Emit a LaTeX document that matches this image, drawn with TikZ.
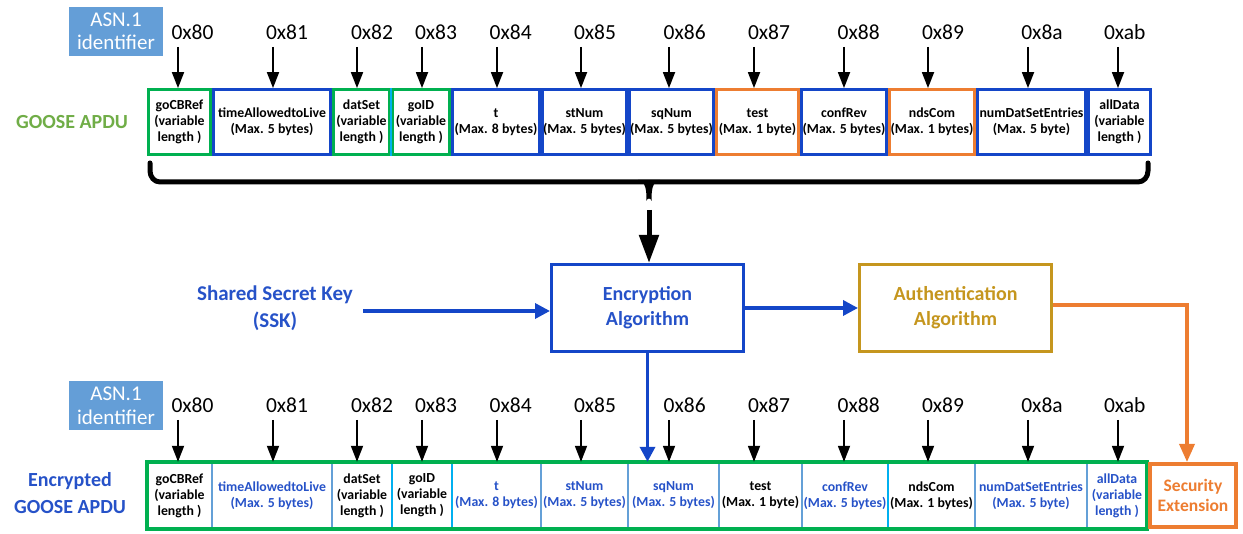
\documentclass[tikz,border=0pt]{standalone}
\usepackage{fontspec}
\setmainfont{Carlito}
\usetikzlibrary{arrows.meta}
\definecolor{dblue}{RGB}{20,70,200}
\definecolor{tblue}{RGB}{38,82,200}
\definecolor{bgreen}{RGB}{0,176,80}
\definecolor{lgreen}{RGB}{112,173,71}
\definecolor{borange}{RGB}{237,125,49}
\definecolor{gold}{RGB}{197,150,30}
\definecolor{asnblue}{RGB}{100,158,215}
\definecolor{sepblue}{RGB}{100,160,215}
\definecolor{cyanb}{RGB}{0,176,240}
\newcommand\cellfnt{\fontsize{13.8}{16}\selectfont\bfseries}
\begin{document}
\begin{tikzpicture}[x=1pt,y=-1pt,
  cell/.style={draw, line width=2.8pt, minimum height=65pt, inner sep=0pt, align=center, font=\cellfnt},
  ecell/.style={draw=none, minimum height=67pt, inner sep=0pt, align=center, font=\cellfnt},
  hexlab/.style={font=\fontsize{21.5}{24}\selectfont, inner sep=0pt},
  tag/.style={line width=1.8pt, -{Triangle[length=16pt,width=12pt]}},
  asnbox/.style={fill=asnblue, text=white, minimum width=94pt, minimum height=49pt, inner sep=0pt, align=center, font=\fontsize{21}{23.5}\selectfont},
  sepline/.style={draw=sepblue, line width=2.5pt},
  sepcyan/.style={draw=cyanb, line width=2.5pt},
  bigbox/.style={line width=3pt, minimum width=192pt, minimum height=87pt, inner sep=0pt, align=center, font=\fontsize{20}{25}\selectfont\bfseries},
  barrow/.style={draw=dblue, line width=3.5pt, -{Triangle[length=15pt,width=15pt]}},
  oarrow/.style={draw=borange, line width=3.5pt, line join=miter, -{Triangle[length=18pt,width=15pt]}},
  sidelab/.style={font=\fontsize{20}{27}\selectfont\bfseries, align=center, inner sep=0pt}
]
\useasboundingbox (0,0) rectangle (1243,534);

% ---------- top row ----------
\node[asnbox] (asn1) at (116,31.5) {ASN.1\\identifier};
\node[sidelab, text=lgreen] (goose) at (72,122) {GOOSE APDU};

\node[cell, draw=bgreen, minimum width=62pt] (tc1) at (179.5,122) {goCBRef\\(variable\\length )};
\node[cell, draw=dblue, minimum width=117pt] (tc2) at (272,122) {timeAllowedtoLive\\(Max. 5 bytes)};
\node[cell, draw=bgreen, minimum width=56pt] (tc3) at (361.5,122) {datSet\\(variable\\length )};
\node[cell, draw=bgreen, minimum width=57pt] (tc4) at (421,122) {goID\\(variable\\length )};
\node[cell, draw=dblue, minimum width=87pt] (tc5) at (496,122) {t\\(Max. 8 bytes)};
\node[cell, draw=dblue, minimum width=84pt] (tc6) at (584.5,122) {stNum\\(Max. 5 bytes)};
\node[cell, draw=dblue, minimum width=84pt] (tc7) at (671.5,122) {sqNum\\(Max. 5 bytes)};
\node[cell, draw=borange, minimum width=82pt] (tc8) at (757.5,122) {test\\(Max. 1 byte)};
\node[cell, draw=dblue, minimum width=85pt] (tc9) at (844,122) {confRev\\(Max. 5 bytes)};
\node[cell, draw=borange, minimum width=85pt] (tc10) at (932,122) {ndsCom\\(Max. 1 bytes)};
\node[cell, draw=dblue, minimum width=108pt] (tc11) at (1031.5,122) {numDatSetEntries\\(Max. 5 byte)};
\node[cell, draw=dblue, minimum width=62pt] (tc12) at (1119.5,122) {allData\\(variable\\length )};
\draw[sepcyan] (tc4.north west) -- (tc4.south west);

% ---------- bottom row ----------
\node[asnbox] (asn2) at (116,406) {ASN.1\\identifier};
\node[sidelab, text=tblue] (egoose) at (70,493.5) {Encrypted\\GOOSE APDU};

\node[ecell, minimum width=65pt] (bc1) at (179.5,495.5) {goCBRef\\(variable\\length )};
\node[ecell, minimum width=120pt, text=tblue] (bc2) at (272,495.5) {timeAllowedtoLive\\(Max. 5 bytes)};
\node[ecell, minimum width=60pt] (bc3) at (362,495.5) {datSet\\(variable\\length )};
\node[ecell, minimum width=60pt] (bc4) at (422,495.5) {goID\\(variable\\length )};
\node[ecell, minimum width=89pt, text=tblue] (bc5) at (496.5,495.5) {t\\(Max. 8 bytes)};
\node[ecell, minimum width=87pt, text=tblue] (bc6) at (584.5,495.5) {stNum\\(Max. 5 bytes)};
\node[ecell, minimum width=91pt, text=tblue] (bc7) at (673.5,495.5) {sqNum\\(Max. 5 bytes)};
\node[ecell, minimum width=83pt] (bc8) at (760.5,495.5) {test\\(Max. 1 byte)};
\node[ecell, minimum width=86pt, text=tblue] (bc9) at (845,495.5) {confRev\\(Max. 5 bytes)};
\node[ecell, minimum width=87pt] (bc10) at (931.5,495.5) {ndsCom\\(Max. 1 bytes)};
\node[ecell, minimum width=112pt, text=tblue] (bc11) at (1031,495.5) {numDatSetEntries\\(Max. 5 byte)};
\node[ecell, minimum width=60pt, text=tblue] (bc12) at (1117,495.5) {allData\\(variable\\length )};

\foreach \i in {1,2,5,6,7,8,10,11} {
  \draw[sepline] (bc\i.north east) -- (bc\i.south east);
}
\foreach \i in {3,4,9} {
  \draw[sepcyan] (bc\i.north east) -- (bc\i.south east);
}
\draw[draw=bgreen, line width=4pt] (bc1.north west) rectangle (bc12.south east);

\node[draw=borange, line width=4pt, minimum width=86pt, minimum height=63pt, inner sep=0pt,
      align=center, text=borange, font=\fontsize{17.5}{20}\selectfont\bfseries] (sec) at (1193,495.5) {Security\\Extension};

% ---------- identifier labels and arrows ----------
\foreach \i/\lx/\ax/\t in {1/192.5/178/0x80, 2/287/273/0x81, 3/372/357/0x82, 4/436/422/0x83,
  5/510.7/497/0x84, 6/595/581/0x85, 7/684.7/669/0x86, 8/769/754/0x87, 9/858.7/844/0x88,
  10/943/928/0x89, 11/1042/1028/0x8a, 12/1124.7/1118/0xab} {
  \node[hexlab] (th\i) at (\lx,32) {\t};
  \coordinate (ta\i) at (\ax,47);
  \draw[tag] (ta\i) -- (ta\i |- tc\i.north);
  \node[hexlab] (bh\i) at (\lx,405) {\t};
  \coordinate (ba\i) at (\ax,420);
  \draw[tag] (ba\i) -- (ba\i |- bc\i.north);
}

% ---------- brace ----------
\draw[line width=5pt, line cap=round, line join=round]
  (150,163) -- (150,171) to[out=-90,in=180] (160,182) -- (1138,182) to[out=0,in=-90] (1148,171) -- (1148,163);
\fill (638,180) .. controls (646,182) and (646.5,190) .. (646.5,201)
  arc[start angle=180,end angle=360,radius=2.5] .. controls (651.5,190) and (652,182) .. (660,180) -- cycle;

% ---------- middle ----------
\node[bigbox, draw=dblue, text=tblue] (enc) at (647.5,308) {Encryption\\Algorithm};
\node[bigbox, draw=gold, text=gold] (auth) at (955.5,308) {Authentication\\Algorithm};
\node[font=\fontsize{21}{27}\selectfont\bfseries, text=tblue, align=center, inner sep=0pt] (ssk) at (275,308) {Shared Secret Key\\(SSK)};

\coordinate (bt) at (649,210);
\draw[line width=5pt, -{Triangle[length=28pt,width=19pt]}] (bt) -- (bt |- enc.north);

\coordinate (sskend) at (363,311);
\draw[barrow] (sskend) -- (sskend -| enc.west);
\draw[barrow] (enc.east) -- (auth.west);
\draw[barrow] (enc.south) -- (enc.south |- bc7.north);

\coordinate (oc) at (1187,305);
\draw[oarrow] (auth.east |- oc) -- (oc) -- (oc |- sec.north);
\end{tikzpicture}
\end{document}
